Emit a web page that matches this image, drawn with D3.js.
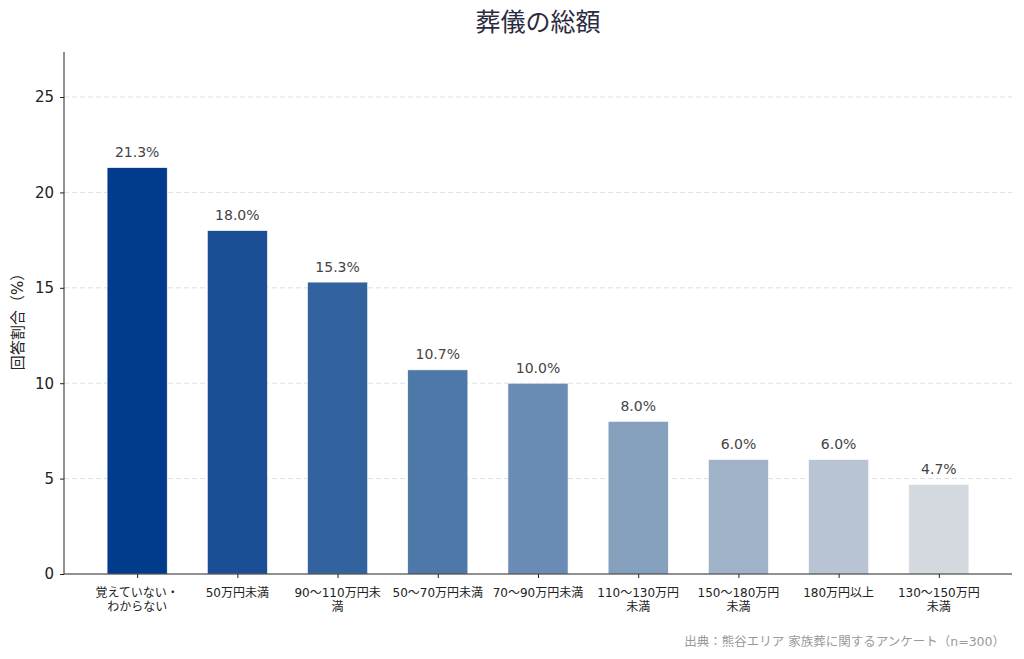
<!DOCTYPE html>
<html>
<head>
<meta charset="utf-8">
<script src="https://cdn.jsdelivr.net/npm/d3@7"></script>
<style>
body { margin: 0; background: #fff; }
svg text { font-family: "DejaVu Sans", "Noto Sans CJK JP", sans-serif; }
</style>
</head>
<body>
<script>
var categories = [
  ["覚えていない・", "わからない"],
  ["50万円未満"],
  ["90～110万円未", "満"],
  ["50～70万円未満"],
  ["70～90万円未満"],
  ["110～130万円", "未満"],
  ["150～180万円", "未満"],
  ["180万円以上"],
  ["130～150万円", "未満"]
];
var values = [21.3, 18.0, 15.3, 10.7, 10.0, 8.0, 6.0, 6.0, 4.7];
var colors = ["#003b8c", "#1a4f96", "#33639f", "#4e78a8", "#6a8bb3", "#85a0bd", "#a0b2c8", "#b8c4d3", "#d3d9de"];
var yTicks = [0, 5, 10, 15, 20, 25];

var W = 1024, H = 659;
var mLeft = 64, mRight = 1012, mTop = 52, mBottom = 574;

var svg = d3.select("body").append("svg").attr("width", W).attr("height", H);

var x = d3.scaleLinear().domain([-0.73, 8.73]).range([mLeft, mRight]);
var y = d3.scaleLinear().domain([0, 27.36]).range([mBottom, mTop]);

// grid
svg.append("g").selectAll("line")
  .data(yTicks.filter(function(d){ return d > 0; }))
  .enter().append("line")
  .attr("x1", mLeft).attr("x2", mRight)
  .attr("y1", function(d){ return y(d); }).attr("y2", function(d){ return y(d); })
  .attr("stroke", "#dcdfe3").attr("stroke-width", 1).attr("stroke-dasharray", "5,3");

// bars
var bw = 0.6;
svg.append("g").selectAll("rect")
  .data(values)
  .enter().append("rect")
  .attr("x", function(d, i){ return x(i - bw/2); })
  .attr("width", x(bw) - x(0))
  .attr("y", function(d){ return y(d); })
  .attr("height", function(d){ return y(0) - y(d); })
  .attr("fill", function(d, i){ return colors[i]; })
  .attr("stroke", "#fff").attr("stroke-width", 0.6);

// value labels
svg.append("g").selectAll("text")
  .data(values)
  .enter().append("text")
  .attr("x", function(d, i){ return x(i); })
  .attr("y", function(d){ return y(d) - 10.5; })
  .attr("text-anchor", "middle")
  .attr("font-size", 14).attr("fill", "#444")
  .text(function(d){ return d.toFixed(1) + "%"; });

// y axis
var yAxis = d3.axisLeft(y).tickValues(yTicks).tickSize(4).tickPadding(6);
var yg = svg.append("g").attr("transform", "translate(" + mLeft + ",0)").call(yAxis);
yg.select(".domain").attr("stroke", "#222").attr("d", "M0," + mBottom + "V" + mTop);
yg.selectAll(".tick line").attr("stroke", "#222");
yg.selectAll(".tick text").attr("font-size", 15).attr("fill", "#222");

// x axis
var xAxis = d3.axisBottom(x).tickValues(d3.range(categories.length)).tickSize(4).tickFormat("");
var xg = svg.append("g").attr("transform", "translate(0," + mBottom + ")").call(xAxis);
xg.select(".domain").attr("stroke", "#222").attr("d", "M" + mLeft + ",0H" + mRight);
xg.selectAll(".tick line").attr("stroke", "#222");

var lab = svg.append("g").selectAll("text")
  .data(categories)
  .enter().append("text")
  .attr("text-anchor", "middle")
  .attr("font-size", 12).attr("fill", "#222");
lab.selectAll("tspan")
  .data(function(d, i){ return d.map(function(s){ return {s: s, i: i}; }); })
  .enter().append("tspan")
  .attr("x", function(d){ return x(d.i); })
  .attr("y", function(d, j){ return mBottom + 22.5 + j * 14; })
  .text(function(d){ return d.s; });

// y label
svg.append("text")
  .attr("transform", "translate(23," + ((mTop + mBottom) / 2 + 5) + ") rotate(-90)")
  .attr("text-anchor", "middle")
  .attr("font-size", 15).attr("fill", "#222")
  .text("回答割合（%）");

// title
svg.append("text")
  .attr("x", (mLeft + mRight) / 2).attr("y", 31)
  .attr("text-anchor", "middle")
  .attr("font-size", 25).attr("fill", "#2b2b40")
  .text("葬儀の総額");

// source
svg.append("text")
  .attr("x", 1005).attr("y", 646)
  .attr("text-anchor", "end")
  .attr("font-size", 12.5).attr("fill", "#999")
  .text("出典：熊谷エリア 家族葬に関するアンケート（n=300）");
</script>
</body>
</html>
